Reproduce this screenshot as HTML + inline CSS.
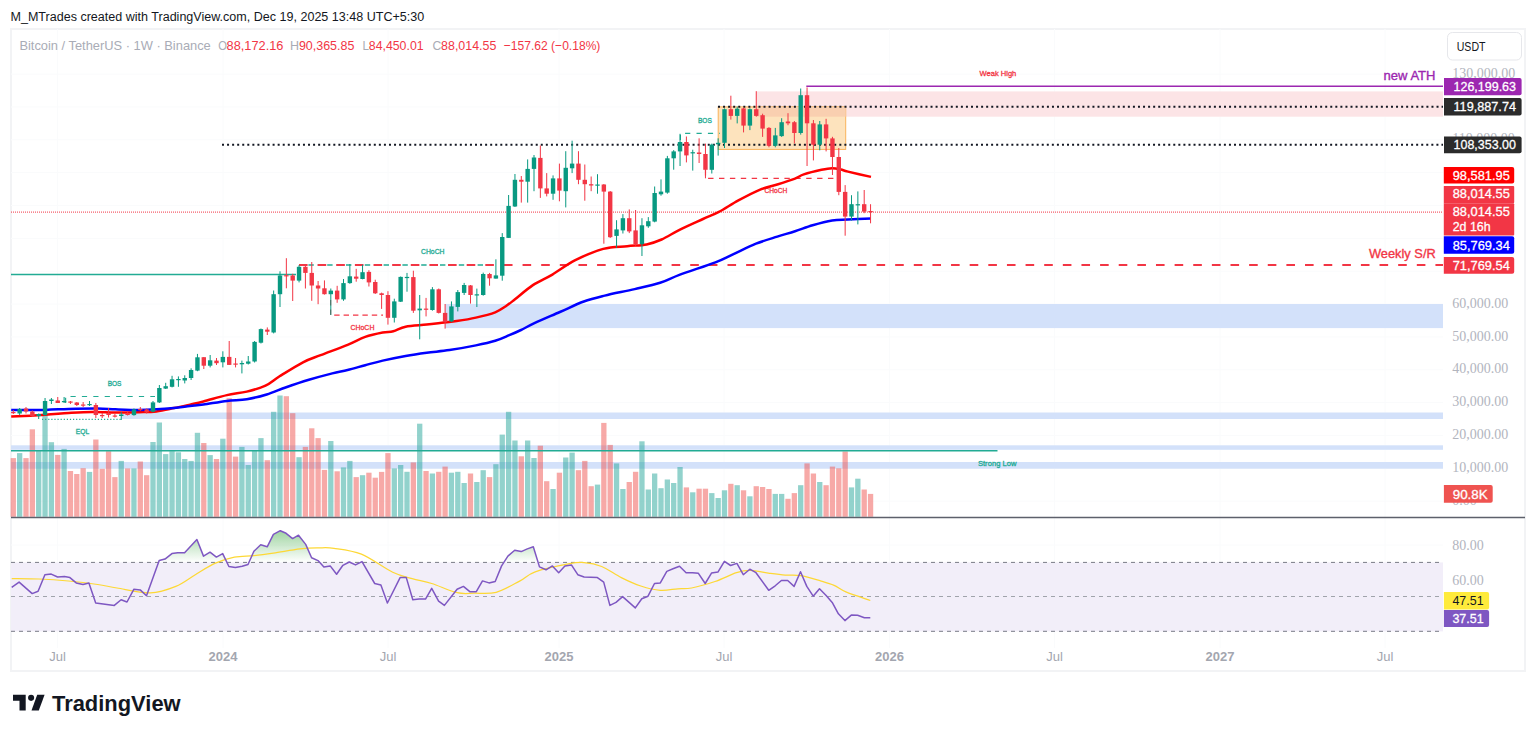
<!DOCTYPE html>
<html><head><meta charset="utf-8"><style>
html,body{margin:0;padding:0;background:#fff;width:1536px;height:735px;overflow:hidden;position:relative;font-family:"Liberation Sans",sans-serif;}
.frame{position:absolute;left:10px;top:28px;width:1512px;height:640px;border:2px solid #f2f3f5;}
svg{position:absolute;left:0;top:0}
</style></head><body>
<div class="frame"></div>
<svg width="1536" height="735" viewBox="0 0 1536 735" font-family='"Liberation Sans", sans-serif'>
<line x1="57.5" y1="29" x2="57.5" y2="648" stroke="#fafbfc" stroke-width="1"/>
<line x1="223" y1="29" x2="223" y2="648" stroke="#fafbfc" stroke-width="1"/>
<line x1="388" y1="29" x2="388" y2="648" stroke="#fafbfc" stroke-width="1"/>
<line x1="559" y1="29" x2="559" y2="648" stroke="#fafbfc" stroke-width="1"/>
<line x1="724" y1="29" x2="724" y2="648" stroke="#fafbfc" stroke-width="1"/>
<line x1="889.5" y1="29" x2="889.5" y2="648" stroke="#fafbfc" stroke-width="1"/>
<line x1="1054.5" y1="29" x2="1054.5" y2="648" stroke="#fafbfc" stroke-width="1"/>
<line x1="1220" y1="29" x2="1220" y2="648" stroke="#fafbfc" stroke-width="1"/>
<line x1="1385" y1="29" x2="1385" y2="648" stroke="#fafbfc" stroke-width="1"/>
<line x1="11" y1="501.17" x2="1443" y2="501.17" stroke="#fafbfc" stroke-width="1"/>
<line x1="11" y1="468.32" x2="1443" y2="468.32" stroke="#fafbfc" stroke-width="1"/>
<line x1="11" y1="435.47" x2="1443" y2="435.47" stroke="#fafbfc" stroke-width="1"/>
<line x1="11" y1="402.62" x2="1443" y2="402.62" stroke="#fafbfc" stroke-width="1"/>
<line x1="11" y1="369.77" x2="1443" y2="369.77" stroke="#fafbfc" stroke-width="1"/>
<line x1="11" y1="336.92" x2="1443" y2="336.92" stroke="#fafbfc" stroke-width="1"/>
<line x1="11" y1="304.07" x2="1443" y2="304.07" stroke="#fafbfc" stroke-width="1"/>
<line x1="11" y1="271.22" x2="1443" y2="271.22" stroke="#fafbfc" stroke-width="1"/>
<line x1="11" y1="238.37" x2="1443" y2="238.37" stroke="#fafbfc" stroke-width="1"/>
<line x1="11" y1="205.52" x2="1443" y2="205.52" stroke="#fafbfc" stroke-width="1"/>
<line x1="11" y1="172.67" x2="1443" y2="172.67" stroke="#fafbfc" stroke-width="1"/>
<line x1="11" y1="139.82" x2="1443" y2="139.82" stroke="#fafbfc" stroke-width="1"/>
<line x1="11" y1="106.97" x2="1443" y2="106.97" stroke="#fafbfc" stroke-width="1"/>
<line x1="11" y1="74.12" x2="1443" y2="74.12" stroke="#fafbfc" stroke-width="1"/>
<line x1="11" y1="545" x2="1443" y2="545" stroke="#fafbfc" stroke-width="1"/>
<line x1="11" y1="580" x2="1443" y2="580" stroke="#fafbfc" stroke-width="1"/>
<rect x="756" y="91.4" width="687" height="25.3" fill="#fce4e6"/>
<rect x="718.2" y="106.9" width="127.5" height="42.5" fill="#fde3bd" stroke="#f9b35a" stroke-width="1"/>
<rect x="756" y="107" width="89.7" height="9.7" fill="#f9cfb0"/>
<rect x="445" y="304" width="998" height="24.1" fill="#d3e1fa"/>
<rect x="121.5" y="412.5" width="1321.5" height="6.5" fill="#d3e1fa"/>
<rect x="11" y="445.3" width="1432" height="4.5" fill="#d3e1fa"/>
<rect x="11" y="462" width="1432" height="6.7" fill="#d3e1fa"/>
<rect x="10.65" y="458.1" width="5.3" height="58.7" fill="rgba(239,83,80,0.5)"/>
<rect x="17" y="453.1" width="5.3" height="63.7" fill="rgba(38,166,154,0.5)"/>
<rect x="23.35" y="458.1" width="5.3" height="58.7" fill="rgba(239,83,80,0.5)"/>
<rect x="29.7" y="429.3" width="5.3" height="87.5" fill="rgba(239,83,80,0.5)"/>
<rect x="36.05" y="450.1" width="5.3" height="66.7" fill="rgba(38,166,154,0.5)"/>
<rect x="42.4" y="414.8" width="5.3" height="102" fill="rgba(38,166,154,0.5)"/>
<rect x="48.75" y="442.2" width="5.3" height="74.6" fill="rgba(38,166,154,0.5)"/>
<rect x="55.1" y="454.9" width="5.3" height="61.9" fill="rgba(239,83,80,0.5)"/>
<rect x="61.45" y="448.9" width="5.3" height="67.9" fill="rgba(38,166,154,0.5)"/>
<rect x="67.8" y="471" width="5.3" height="45.8" fill="rgba(239,83,80,0.5)"/>
<rect x="74.15" y="474" width="5.3" height="42.8" fill="rgba(239,83,80,0.5)"/>
<rect x="80.5" y="468.2" width="5.3" height="48.6" fill="rgba(239,83,80,0.5)"/>
<rect x="86.85" y="471.9" width="5.3" height="44.9" fill="rgba(38,166,154,0.5)"/>
<rect x="93.2" y="439.5" width="5.3" height="77.3" fill="rgba(239,83,80,0.5)"/>
<rect x="99.55" y="468.8" width="5.3" height="48" fill="rgba(239,83,80,0.5)"/>
<rect x="105.9" y="451.2" width="5.3" height="65.6" fill="rgba(239,83,80,0.5)"/>
<rect x="112.25" y="477.1" width="5.3" height="39.7" fill="rgba(239,83,80,0.5)"/>
<rect x="118.6" y="460.9" width="5.3" height="55.9" fill="rgba(38,166,154,0.5)"/>
<rect x="124.95" y="468.4" width="5.3" height="48.4" fill="rgba(239,83,80,0.5)"/>
<rect x="131.3" y="468.4" width="5.3" height="48.4" fill="rgba(38,166,154,0.5)"/>
<rect x="137.65" y="461.5" width="5.3" height="55.3" fill="rgba(239,83,80,0.5)"/>
<rect x="144" y="475.2" width="5.3" height="41.6" fill="rgba(239,83,80,0.5)"/>
<rect x="150.35" y="442" width="5.3" height="74.8" fill="rgba(38,166,154,0.5)"/>
<rect x="156.7" y="422.5" width="5.3" height="94.3" fill="rgba(38,166,154,0.5)"/>
<rect x="163.05" y="454.1" width="5.3" height="62.7" fill="rgba(38,166,154,0.5)"/>
<rect x="169.4" y="451.2" width="5.3" height="65.6" fill="rgba(38,166,154,0.5)"/>
<rect x="175.75" y="452.3" width="5.3" height="64.5" fill="rgba(38,166,154,0.5)"/>
<rect x="182.1" y="459" width="5.3" height="57.8" fill="rgba(38,166,154,0.5)"/>
<rect x="188.45" y="460.9" width="5.3" height="55.9" fill="rgba(38,166,154,0.5)"/>
<rect x="194.8" y="432.8" width="5.3" height="84" fill="rgba(38,166,154,0.5)"/>
<rect x="201.15" y="443" width="5.3" height="73.8" fill="rgba(239,83,80,0.5)"/>
<rect x="207.5" y="455.1" width="5.3" height="61.7" fill="rgba(38,166,154,0.5)"/>
<rect x="213.85" y="459" width="5.3" height="57.8" fill="rgba(239,83,80,0.5)"/>
<rect x="220.2" y="438.7" width="5.3" height="78.1" fill="rgba(38,166,154,0.5)"/>
<rect x="226.55" y="398.2" width="5.3" height="118.6" fill="rgba(239,83,80,0.5)"/>
<rect x="232.9" y="456.6" width="5.3" height="60.2" fill="rgba(239,83,80,0.5)"/>
<rect x="239.25" y="446.9" width="5.3" height="69.9" fill="rgba(38,166,154,0.5)"/>
<rect x="245.6" y="465" width="5.3" height="51.8" fill="rgba(38,166,154,0.5)"/>
<rect x="251.95" y="450.8" width="5.3" height="66" fill="rgba(38,166,154,0.5)"/>
<rect x="258.3" y="438.1" width="5.3" height="78.7" fill="rgba(38,166,154,0.5)"/>
<rect x="264.65" y="460.2" width="5.3" height="56.6" fill="rgba(239,83,80,0.5)"/>
<rect x="271" y="411.8" width="5.3" height="105" fill="rgba(38,166,154,0.5)"/>
<rect x="277.35" y="395.5" width="5.3" height="121.3" fill="rgba(38,166,154,0.5)"/>
<rect x="283.7" y="396.2" width="5.3" height="120.6" fill="rgba(239,83,80,0.5)"/>
<rect x="290.05" y="413.2" width="5.3" height="103.6" fill="rgba(239,83,80,0.5)"/>
<rect x="296.4" y="457.2" width="5.3" height="59.6" fill="rgba(38,166,154,0.5)"/>
<rect x="302.75" y="446.9" width="5.3" height="69.9" fill="rgba(239,83,80,0.5)"/>
<rect x="309.1" y="428.3" width="5.3" height="88.5" fill="rgba(239,83,80,0.5)"/>
<rect x="315.45" y="438.1" width="5.3" height="78.7" fill="rgba(239,83,80,0.5)"/>
<rect x="321.8" y="469.9" width="5.3" height="46.9" fill="rgba(239,83,80,0.5)"/>
<rect x="328.15" y="441" width="5.3" height="75.8" fill="rgba(38,166,154,0.5)"/>
<rect x="334.5" y="471.3" width="5.3" height="45.5" fill="rgba(239,83,80,0.5)"/>
<rect x="340.85" y="467.4" width="5.3" height="49.4" fill="rgba(38,166,154,0.5)"/>
<rect x="347.2" y="460.9" width="5.3" height="55.9" fill="rgba(38,166,154,0.5)"/>
<rect x="353.55" y="477.1" width="5.3" height="39.7" fill="rgba(239,83,80,0.5)"/>
<rect x="359.9" y="475.2" width="5.3" height="41.6" fill="rgba(38,166,154,0.5)"/>
<rect x="366.25" y="472.7" width="5.3" height="44.1" fill="rgba(239,83,80,0.5)"/>
<rect x="372.6" y="477.7" width="5.3" height="39.1" fill="rgba(239,83,80,0.5)"/>
<rect x="378.95" y="471.9" width="5.3" height="44.9" fill="rgba(239,83,80,0.5)"/>
<rect x="385.3" y="453.1" width="5.3" height="63.7" fill="rgba(239,83,80,0.5)"/>
<rect x="391.65" y="468.4" width="5.3" height="48.4" fill="rgba(38,166,154,0.5)"/>
<rect x="398" y="465" width="5.3" height="51.8" fill="rgba(38,166,154,0.5)"/>
<rect x="404.35" y="471.8" width="5.3" height="45" fill="rgba(38,166,154,0.5)"/>
<rect x="410.7" y="462.4" width="5.3" height="54.4" fill="rgba(239,83,80,0.5)"/>
<rect x="417.05" y="423.7" width="5.3" height="93.1" fill="rgba(38,166,154,0.5)"/>
<rect x="423.4" y="471" width="5.3" height="45.8" fill="rgba(239,83,80,0.5)"/>
<rect x="429.75" y="473.5" width="5.3" height="43.3" fill="rgba(38,166,154,0.5)"/>
<rect x="436.1" y="471.8" width="5.3" height="45" fill="rgba(239,83,80,0.5)"/>
<rect x="442.45" y="466.6" width="5.3" height="50.2" fill="rgba(239,83,80,0.5)"/>
<rect x="448.8" y="472.7" width="5.3" height="44.1" fill="rgba(38,166,154,0.5)"/>
<rect x="455.15" y="471.8" width="5.3" height="45" fill="rgba(38,166,154,0.5)"/>
<rect x="461.5" y="483" width="5.3" height="33.8" fill="rgba(38,166,154,0.5)"/>
<rect x="467.85" y="473.5" width="5.3" height="43.3" fill="rgba(239,83,80,0.5)"/>
<rect x="474.2" y="482" width="5.3" height="34.8" fill="rgba(38,166,154,0.5)"/>
<rect x="480.55" y="470.2" width="5.3" height="46.6" fill="rgba(38,166,154,0.5)"/>
<rect x="486.9" y="477.1" width="5.3" height="39.7" fill="rgba(239,83,80,0.5)"/>
<rect x="493.25" y="464.2" width="5.3" height="52.6" fill="rgba(38,166,154,0.5)"/>
<rect x="499.6" y="434.6" width="5.3" height="82.2" fill="rgba(38,166,154,0.5)"/>
<rect x="505.95" y="411.8" width="5.3" height="105" fill="rgba(38,166,154,0.5)"/>
<rect x="512.3" y="440.5" width="5.3" height="76.3" fill="rgba(38,166,154,0.5)"/>
<rect x="518.65" y="456.3" width="5.3" height="60.5" fill="rgba(239,83,80,0.5)"/>
<rect x="525" y="440.5" width="5.3" height="76.3" fill="rgba(38,166,154,0.5)"/>
<rect x="531.35" y="458" width="5.3" height="58.8" fill="rgba(38,166,154,0.5)"/>
<rect x="537.7" y="445.7" width="5.3" height="71.1" fill="rgba(239,83,80,0.5)"/>
<rect x="544.05" y="481.2" width="5.3" height="35.6" fill="rgba(239,83,80,0.5)"/>
<rect x="550.4" y="489" width="5.3" height="27.8" fill="rgba(38,166,154,0.5)"/>
<rect x="556.75" y="472.7" width="5.3" height="44.1" fill="rgba(239,83,80,0.5)"/>
<rect x="563.1" y="457.5" width="5.3" height="59.3" fill="rgba(38,166,154,0.5)"/>
<rect x="569.45" y="452.6" width="5.3" height="64.2" fill="rgba(38,166,154,0.5)"/>
<rect x="575.8" y="470.2" width="5.3" height="46.6" fill="rgba(239,83,80,0.5)"/>
<rect x="582.15" y="460.9" width="5.3" height="55.9" fill="rgba(239,83,80,0.5)"/>
<rect x="588.5" y="486.2" width="5.3" height="30.6" fill="rgba(239,83,80,0.5)"/>
<rect x="594.85" y="484.6" width="5.3" height="32.2" fill="rgba(38,166,154,0.5)"/>
<rect x="601.2" y="422.9" width="5.3" height="93.9" fill="rgba(239,83,80,0.5)"/>
<rect x="607.55" y="444.9" width="5.3" height="71.9" fill="rgba(239,83,80,0.5)"/>
<rect x="613.9" y="463.4" width="5.3" height="53.4" fill="rgba(38,166,154,0.5)"/>
<rect x="620.25" y="489" width="5.3" height="27.8" fill="rgba(38,166,154,0.5)"/>
<rect x="626.6" y="482" width="5.3" height="34.8" fill="rgba(239,83,80,0.5)"/>
<rect x="632.95" y="471.8" width="5.3" height="45" fill="rgba(239,83,80,0.5)"/>
<rect x="639.3" y="441.3" width="5.3" height="75.5" fill="rgba(38,166,154,0.5)"/>
<rect x="645.65" y="489.5" width="5.3" height="27.3" fill="rgba(38,166,154,0.5)"/>
<rect x="652" y="473.5" width="5.3" height="43.3" fill="rgba(38,166,154,0.5)"/>
<rect x="658.35" y="488.2" width="5.3" height="28.6" fill="rgba(38,166,154,0.5)"/>
<rect x="664.7" y="479.5" width="5.3" height="37.3" fill="rgba(38,166,154,0.5)"/>
<rect x="671.05" y="483" width="5.3" height="33.8" fill="rgba(38,166,154,0.5)"/>
<rect x="677.4" y="467" width="5.3" height="49.8" fill="rgba(38,166,154,0.5)"/>
<rect x="683.75" y="487.4" width="5.3" height="29.4" fill="rgba(239,83,80,0.5)"/>
<rect x="690.1" y="492.3" width="5.3" height="24.5" fill="rgba(38,166,154,0.5)"/>
<rect x="696.45" y="488.7" width="5.3" height="28.1" fill="rgba(239,83,80,0.5)"/>
<rect x="702.8" y="488.7" width="5.3" height="28.1" fill="rgba(239,83,80,0.5)"/>
<rect x="709.15" y="493.1" width="5.3" height="23.7" fill="rgba(38,166,154,0.5)"/>
<rect x="715.5" y="498" width="5.3" height="18.8" fill="rgba(38,166,154,0.5)"/>
<rect x="721.85" y="490.3" width="5.3" height="26.5" fill="rgba(38,166,154,0.5)"/>
<rect x="728.2" y="483.8" width="5.3" height="33" fill="rgba(239,83,80,0.5)"/>
<rect x="734.55" y="485.2" width="5.3" height="31.6" fill="rgba(38,166,154,0.5)"/>
<rect x="740.9" y="490.3" width="5.3" height="26.5" fill="rgba(239,83,80,0.5)"/>
<rect x="747.25" y="496.3" width="5.3" height="20.5" fill="rgba(38,166,154,0.5)"/>
<rect x="753.6" y="486.2" width="5.3" height="30.6" fill="rgba(239,83,80,0.5)"/>
<rect x="759.95" y="487" width="5.3" height="29.8" fill="rgba(239,83,80,0.5)"/>
<rect x="766.3" y="489" width="5.3" height="27.8" fill="rgba(239,83,80,0.5)"/>
<rect x="772.65" y="493.9" width="5.3" height="22.9" fill="rgba(38,166,154,0.5)"/>
<rect x="779" y="493.9" width="5.3" height="22.9" fill="rgba(38,166,154,0.5)"/>
<rect x="785.35" y="498.8" width="5.3" height="18" fill="rgba(239,83,80,0.5)"/>
<rect x="791.7" y="493.1" width="5.3" height="23.7" fill="rgba(239,83,80,0.5)"/>
<rect x="798.05" y="485.2" width="5.3" height="31.6" fill="rgba(38,166,154,0.5)"/>
<rect x="804.4" y="463.4" width="5.3" height="53.4" fill="rgba(239,83,80,0.5)"/>
<rect x="810.75" y="473.5" width="5.3" height="43.3" fill="rgba(239,83,80,0.5)"/>
<rect x="817.1" y="482" width="5.3" height="34.8" fill="rgba(38,166,154,0.5)"/>
<rect x="823.45" y="485.2" width="5.3" height="31.6" fill="rgba(239,83,80,0.5)"/>
<rect x="829.8" y="466.6" width="5.3" height="50.2" fill="rgba(239,83,80,0.5)"/>
<rect x="836.15" y="468.3" width="5.3" height="48.5" fill="rgba(239,83,80,0.5)"/>
<rect x="842.5" y="451.4" width="5.3" height="65.4" fill="rgba(239,83,80,0.5)"/>
<rect x="848.85" y="487.4" width="5.3" height="29.4" fill="rgba(38,166,154,0.5)"/>
<rect x="855.2" y="478.7" width="5.3" height="38.1" fill="rgba(38,166,154,0.5)"/>
<rect x="861.55" y="489.5" width="5.3" height="27.3" fill="rgba(239,83,80,0.5)"/>
<rect x="867.9" y="493.9" width="5.3" height="22.9" fill="rgba(239,83,80,0.5)"/>
<line x1="11" y1="274.5" x2="296" y2="274.5" stroke="#22ab94" stroke-width="1.5"/>
<line x1="11" y1="450.7" x2="997.5" y2="450.7" stroke="#22ab94" stroke-width="1.5"/>
<line x1="806.3" y1="86.3" x2="1443" y2="86.3" stroke="#9c27b0" stroke-width="1.5"/>
<line x1="718" y1="106.8" x2="1443" y2="106.8" stroke="#131722" stroke-width="2" stroke-dasharray="2 3.06"/>
<line x1="222" y1="144.7" x2="1443" y2="144.7" stroke="#131722" stroke-width="2" stroke-dasharray="2 3.06"/>
<line x1="11" y1="212.1" x2="1443" y2="212.1" stroke="#f23645" stroke-width="1" stroke-dasharray="1 1"/>
<line x1="299" y1="265" x2="496" y2="265" stroke="#22ab94" stroke-width="1.3" stroke-dasharray="5.4 4"/>
<line x1="299" y1="265" x2="1443" y2="265" stroke="#f23645" stroke-width="2" stroke-dasharray="8.6 10.03"/>
<polyline points="330.6,300 330.6,315.2 383,315.2" fill="none" stroke="#f23645" stroke-width="1.2" stroke-dasharray="5.4 4"/>
<polyline points="65.6,403 65.6,396.5 155,396.5" fill="none" stroke="#22ab94" stroke-width="1.2" stroke-dasharray="5.2 6.2"/>
<polyline points="42,419.3 121.7,419.3" fill="none" stroke="#22ab94" stroke-width="1.2" stroke-dasharray="1.2 1.9"/>
<polyline points="680.4,140 680.4,133.3 720,133.3" fill="none" stroke="#22ab94" stroke-width="1.2" stroke-dasharray="5.2 6.2"/>
<polyline points="705.5,170 705.5,178.3 838,178.3" fill="none" stroke="#f23645" stroke-width="1.2" stroke-dasharray="5.4 5.5"/>
<text x="107.7" y="386" textLength="13.8" lengthAdjust="spacingAndGlyphs" fill="#22ab94" font-size="7" font-family='"Liberation Sans", sans-serif' font-weight="normal" stroke="#22ab94" stroke-width="0.3">BOS</text>
<text x="75.7" y="433.9" textLength="13.5" lengthAdjust="spacingAndGlyphs" fill="#22ab94" font-size="7" font-family='"Liberation Sans", sans-serif' font-weight="normal" stroke="#22ab94" stroke-width="0.3">EQL</text>
<text x="421" y="254" textLength="23.5" lengthAdjust="spacingAndGlyphs" fill="#22ab94" font-size="7" font-family='"Liberation Sans", sans-serif' font-weight="normal" stroke="#22ab94" stroke-width="0.3">CHoCH</text>
<text x="350.5" y="330.1" textLength="23.9" lengthAdjust="spacingAndGlyphs" fill="#f23645" font-size="7" font-family='"Liberation Sans", sans-serif' font-weight="normal" stroke="#f23645" stroke-width="0.3">CHoCH</text>
<text x="697.9" y="122.9" textLength="13.9" lengthAdjust="spacingAndGlyphs" fill="#22ab94" font-size="7" font-family='"Liberation Sans", sans-serif' font-weight="normal" stroke="#22ab94" stroke-width="0.3">BOS</text>
<text x="764.4" y="193.1" textLength="22.8" lengthAdjust="spacingAndGlyphs" fill="#f23645" font-size="7" font-family='"Liberation Sans", sans-serif' font-weight="normal" stroke="#f23645" stroke-width="0.3">CHoCH</text>
<text x="979.6" y="75.9" textLength="36.7" lengthAdjust="spacingAndGlyphs" fill="#f23645" font-size="7.5" font-family='"Liberation Sans", sans-serif' font-weight="normal" stroke="#f23645" stroke-width="0.3">Weak High</text>
<text x="977.9" y="465.8" textLength="38.7" lengthAdjust="spacingAndGlyphs" fill="#22ab94" font-size="7.5" font-family='"Liberation Sans", sans-serif' font-weight="normal" stroke="#22ab94" stroke-width="0.3">Strong Low</text>
<path d="M11.2,416.6 C16.87,416.3 35.63,415.4 45.2,414.8 C54.77,414.2 60.8,413.48 68.6,413 C76.4,412.52 84.18,411.98 92,411.9 C99.82,411.82 107.68,412.45 115.5,412.5 C123.32,412.55 132.07,412.38 138.9,412.2 C145.73,412.02 150.65,412.08 156.5,411.4 C162.35,410.72 168.42,409.23 174,408.1 C179.58,406.97 185.1,405.7 190,404.6 C194.9,403.5 197.25,403.08 203.4,401.5 C209.55,399.92 219.67,396.75 226.9,395.1 C234.13,393.45 240.37,393.17 246.8,391.6 C253.23,390.03 260.03,388.25 265.5,385.7 C270.97,383.15 273.35,380.2 279.6,376.3 C285.85,372.4 296.17,365.82 303,362.3 C309.83,358.78 313.17,358.12 320.6,355.2 C328.03,352.28 340.17,347.85 347.6,344.8 C355.03,341.75 359.35,338.95 365.2,336.9 C371.05,334.85 378.02,333.43 382.7,332.5 C387.38,331.57 389.48,332.27 393.3,331.3 C397.12,330.33 400.03,327.82 405.6,326.7 C411.17,325.58 420.25,325.3 426.7,324.6 C433.15,323.9 439.32,323.08 444.3,322.5 C449.28,321.92 451.33,321.92 456.6,321.1 C461.87,320.28 469.47,319.07 475.9,317.6 C482.33,316.13 490.22,314.2 495.2,312.3 C500.18,310.4 502.5,308.37 505.8,306.2 C509.1,304.03 510.48,302.82 515,299.3 C519.52,295.78 526.67,289.22 532.9,285.1 C539.13,280.98 545.42,278.72 552.4,274.6 C559.38,270.48 566.33,264.68 574.8,260.4 C583.27,256.12 594.47,251.27 603.2,248.9 C611.93,246.53 619.97,246.95 627.2,246.2 C634.43,245.45 640.87,245.52 646.6,244.4 C652.33,243.28 656.03,241.97 661.6,239.5 C667.17,237.03 673.1,233.02 680,229.6 C686.9,226.18 696.52,221.95 703,219 C709.48,216.05 713,215 718.9,211.9 C724.8,208.8 731.62,204.08 738.4,200.4 C745.18,196.72 753.12,192.45 759.6,189.8 C766.08,187.15 771.4,186.37 777.3,184.5 C783.2,182.63 790.58,180.28 795,178.6 C799.42,176.92 799.38,175.87 803.8,174.4 C808.22,172.93 816.78,170.83 821.5,169.8 C826.22,168.77 828.87,168.25 832.1,168.2 C835.33,168.15 838.25,168.93 840.9,169.5 C843.55,170.07 842.98,170.37 848,171.6 C853.02,172.83 867.17,176.02 871,176.9" fill="none" stroke="#ff0000" stroke-width="2.5" stroke-linejoin="round" stroke-linecap="butt"/>
<path d="M11.2,409.9 C16.87,409.9 35.63,410.07 45.2,409.9 C54.77,409.73 59.82,409.13 68.6,408.9 C77.38,408.67 90.08,408.43 97.9,408.5 C105.72,408.57 108.67,409.07 115.5,409.3 C122.33,409.53 132.07,409.9 138.9,409.9 C145.73,409.9 150.65,409.63 156.5,409.3 C162.35,408.97 168.42,408.45 174,407.9 C179.58,407.35 185.1,406.57 190,406 C194.9,405.43 197.25,405.35 203.4,404.5 C209.55,403.65 219.67,401.78 226.9,400.9 C234.13,400.02 240.17,400.27 246.8,399.2 C253.43,398.13 260.25,396.45 266.7,394.5 C273.15,392.55 278.47,389.95 285.5,387.5 C292.53,385.05 301.1,382.15 308.9,379.8 C316.7,377.45 325.85,375.03 332.3,373.4 C338.75,371.77 342.12,371.37 347.6,370 C353.08,368.63 359.35,366.77 365.2,365.2 C371.05,363.63 375.97,362.15 382.7,360.6 C389.43,359.05 398.27,357.22 405.6,355.9 C412.93,354.58 419.38,353.67 426.7,352.7 C434.02,351.73 441.3,351.32 449.5,350.1 C457.7,348.88 468.28,346.95 475.9,345.4 C483.52,343.85 489.63,342.5 495.2,340.8 C500.77,339.1 505,337 509.3,335.2 C513.6,333.4 516.82,332 521,330 C525.18,328 527.92,326.2 534.4,323.2 C540.88,320.2 551.67,315.62 559.9,312 C568.13,308.38 576.33,304.23 583.8,301.5 C591.27,298.77 596.22,297.67 604.7,295.6 C613.18,293.53 625.47,291.23 634.7,289.1 C643.93,286.97 652.55,285.22 660.1,282.8 C667.65,280.38 670.78,278.02 680,274.6 C689.22,271.18 706.57,265.68 715.4,262.3 C724.23,258.92 726.23,257.4 733,254.3 C739.77,251.2 748.62,246.65 756,243.7 C763.38,240.75 770.8,238.67 777.3,236.6 C783.8,234.53 789.12,233.2 795,231.3 C800.88,229.4 806.42,227.02 812.6,225.2 C818.78,223.38 826.2,221.35 832.1,220.4 C838,219.45 841.52,219.8 848,219.5 C854.48,219.2 867.17,218.75 871,218.6" fill="none" stroke="#0000ff" stroke-width="2.5" stroke-linejoin="round" stroke-linecap="butt"/>
<rect x="12.8" y="410" width="1" height="4" fill="#f23645"/>
<rect x="11.1" y="412" width="4.4" height="1.2" fill="#f23645"/>
<rect x="19.15" y="408" width="1" height="7" fill="#089981"/>
<rect x="17.45" y="409" width="4.4" height="4.5" fill="#089981"/>
<rect x="25.5" y="407" width="1" height="6.5" fill="#f23645"/>
<rect x="23.8" y="408.5" width="4.4" height="3" fill="#f23645"/>
<rect x="31.85" y="410.5" width="1" height="6.5" fill="#f23645"/>
<rect x="30.15" y="411.5" width="4.4" height="4.5" fill="#f23645"/>
<rect x="38.2" y="413.5" width="1" height="5.5" fill="#089981"/>
<rect x="36.5" y="414" width="4.4" height="2" fill="#089981"/>
<rect x="44.55" y="398" width="1" height="18" fill="#089981"/>
<rect x="42.85" y="401" width="4.4" height="14" fill="#089981"/>
<rect x="50.9" y="398" width="1" height="6" fill="#089981"/>
<rect x="49.2" y="399.5" width="4.4" height="1.5" fill="#089981"/>
<rect x="57.25" y="397" width="1" height="6" fill="#f23645"/>
<rect x="55.55" y="400.5" width="4.4" height="2.5" fill="#f23645"/>
<rect x="63.6" y="397" width="1" height="6" fill="#089981"/>
<rect x="61.9" y="401" width="4.4" height="1.2" fill="#089981"/>
<rect x="69.95" y="401" width="1" height="3" fill="#f23645"/>
<rect x="68.25" y="401.5" width="4.4" height="1.2" fill="#f23645"/>
<rect x="76.3" y="402" width="1" height="4" fill="#f23645"/>
<rect x="74.6" y="402.5" width="4.4" height="2.5" fill="#f23645"/>
<rect x="82.65" y="402" width="1" height="5" fill="#f23645"/>
<rect x="80.95" y="404.5" width="4.4" height="1.2" fill="#f23645"/>
<rect x="89" y="401" width="1" height="5" fill="#089981"/>
<rect x="87.3" y="404" width="4.4" height="1.2" fill="#089981"/>
<rect x="95.35" y="403" width="1" height="15" fill="#f23645"/>
<rect x="93.65" y="405" width="4.4" height="10" fill="#f23645"/>
<rect x="101.7" y="413" width="1" height="5" fill="#f23645"/>
<rect x="100" y="415" width="4.4" height="1.2" fill="#f23645"/>
<rect x="108.05" y="408" width="1" height="9.5" fill="#f23645"/>
<rect x="106.35" y="413" width="4.4" height="2" fill="#f23645"/>
<rect x="114.4" y="414" width="1" height="3.5" fill="#f23645"/>
<rect x="112.7" y="415.5" width="4.4" height="1.2" fill="#f23645"/>
<rect x="120.75" y="412" width="1" height="8" fill="#089981"/>
<rect x="119.05" y="414.5" width="4.4" height="1.5" fill="#089981"/>
<rect x="127.1" y="411" width="1" height="4.5" fill="#f23645"/>
<rect x="125.4" y="413" width="4.4" height="2" fill="#f23645"/>
<rect x="133.45" y="408.5" width="1" height="7.2" fill="#089981"/>
<rect x="131.75" y="409.4" width="4.4" height="5.7" fill="#089981"/>
<rect x="139.8" y="407" width="1" height="4" fill="#f23645"/>
<rect x="138.1" y="409" width="4.4" height="1.2" fill="#f23645"/>
<rect x="146.15" y="408.5" width="1" height="5" fill="#f23645"/>
<rect x="144.45" y="409.4" width="4.4" height="2.9" fill="#f23645"/>
<rect x="152.5" y="401" width="1" height="11.3" fill="#089981"/>
<rect x="150.8" y="402.4" width="4.4" height="9.3" fill="#089981"/>
<rect x="158.85" y="385" width="1" height="18" fill="#089981"/>
<rect x="157.15" y="388" width="4.4" height="14.4" fill="#089981"/>
<rect x="165.2" y="382.8" width="1" height="6.2" fill="#089981"/>
<rect x="163.5" y="386.2" width="4.4" height="2.4" fill="#089981"/>
<rect x="171.55" y="375.8" width="1" height="11.6" fill="#089981"/>
<rect x="169.85" y="379.3" width="4.4" height="7.5" fill="#089981"/>
<rect x="177.9" y="376.4" width="1" height="10.4" fill="#089981"/>
<rect x="176.2" y="379" width="4.4" height="1.2" fill="#089981"/>
<rect x="184.25" y="375.3" width="1" height="8.1" fill="#089981"/>
<rect x="182.55" y="378" width="4.4" height="2.5" fill="#089981"/>
<rect x="190.6" y="368.3" width="1" height="11.7" fill="#089981"/>
<rect x="188.9" y="370" width="4.4" height="8" fill="#089981"/>
<rect x="196.95" y="353.9" width="1" height="17.3" fill="#089981"/>
<rect x="195.25" y="357.3" width="4.4" height="13.3" fill="#089981"/>
<rect x="203.3" y="357" width="1" height="12" fill="#f23645"/>
<rect x="201.6" y="357.2" width="4.4" height="8.5" fill="#f23645"/>
<rect x="209.65" y="355" width="1" height="12.4" fill="#089981"/>
<rect x="207.95" y="360.3" width="4.4" height="5.4" fill="#089981"/>
<rect x="216" y="358" width="1" height="7" fill="#f23645"/>
<rect x="214.3" y="360.6" width="4.4" height="2.6" fill="#f23645"/>
<rect x="222.35" y="351.3" width="1" height="16.1" fill="#089981"/>
<rect x="220.65" y="356.9" width="4.4" height="5.4" fill="#089981"/>
<rect x="228.7" y="341" width="1" height="24" fill="#f23645"/>
<rect x="227" y="356.9" width="4.4" height="8" fill="#f23645"/>
<rect x="235.05" y="358" width="1" height="9.4" fill="#f23645"/>
<rect x="233.35" y="363.5" width="4.4" height="1.2" fill="#f23645"/>
<rect x="241.4" y="360.6" width="1" height="12.8" fill="#089981"/>
<rect x="239.7" y="363" width="4.4" height="1.3" fill="#089981"/>
<rect x="247.75" y="356" width="1" height="8.5" fill="#089981"/>
<rect x="246.05" y="361.5" width="4.4" height="2.2" fill="#089981"/>
<rect x="254.1" y="341" width="1" height="21.5" fill="#089981"/>
<rect x="252.4" y="341.9" width="4.4" height="19.6" fill="#089981"/>
<rect x="260.45" y="328.5" width="1" height="15" fill="#089981"/>
<rect x="258.75" y="329.1" width="4.4" height="13.6" fill="#089981"/>
<rect x="266.8" y="327.4" width="1" height="7.6" fill="#f23645"/>
<rect x="265.1" y="329.6" width="4.4" height="2.1" fill="#f23645"/>
<rect x="273.15" y="290.5" width="1" height="42.9" fill="#089981"/>
<rect x="271.45" y="294.2" width="4.4" height="38.3" fill="#089981"/>
<rect x="279.5" y="271.3" width="1" height="35.7" fill="#089981"/>
<rect x="277.8" y="275.5" width="4.4" height="18.7" fill="#089981"/>
<rect x="285.85" y="258.2" width="1" height="30.1" fill="#f23645"/>
<rect x="284.15" y="275.2" width="4.4" height="1.2" fill="#f23645"/>
<rect x="292.2" y="273.8" width="1" height="27.2" fill="#f23645"/>
<rect x="290.5" y="275.5" width="4.4" height="5.1" fill="#f23645"/>
<rect x="298.55" y="265.1" width="1" height="17.3" fill="#089981"/>
<rect x="296.85" y="266.8" width="4.4" height="13.8" fill="#089981"/>
<rect x="304.9" y="266" width="1" height="22.5" fill="#f23645"/>
<rect x="303.2" y="266.8" width="4.4" height="6.1" fill="#f23645"/>
<rect x="311.25" y="262" width="1" height="38.8" fill="#f23645"/>
<rect x="309.55" y="272.9" width="4.4" height="12.6" fill="#f23645"/>
<rect x="317.6" y="281" width="1" height="23.2" fill="#f23645"/>
<rect x="315.9" y="285.5" width="4.4" height="3" fill="#f23645"/>
<rect x="323.95" y="280.4" width="1" height="14.2" fill="#f23645"/>
<rect x="322.25" y="288.3" width="4.4" height="5.9" fill="#f23645"/>
<rect x="330.3" y="288.5" width="1" height="26.5" fill="#089981"/>
<rect x="328.6" y="290.6" width="4.4" height="3.6" fill="#089981"/>
<rect x="336.65" y="285.8" width="1" height="17" fill="#f23645"/>
<rect x="334.95" y="290.6" width="4.4" height="8.8" fill="#f23645"/>
<rect x="343" y="279" width="1" height="21.8" fill="#089981"/>
<rect x="341.3" y="283.1" width="4.4" height="16.3" fill="#089981"/>
<rect x="349.35" y="264" width="1" height="19.8" fill="#089981"/>
<rect x="347.65" y="276.3" width="4.4" height="6.8" fill="#089981"/>
<rect x="355.7" y="268.8" width="1" height="12.9" fill="#f23645"/>
<rect x="354" y="276.6" width="4.4" height="2.1" fill="#f23645"/>
<rect x="362.05" y="264.7" width="1" height="14.6" fill="#089981"/>
<rect x="360.35" y="272.2" width="4.4" height="6.8" fill="#089981"/>
<rect x="368.4" y="270.2" width="1" height="16.3" fill="#f23645"/>
<rect x="366.7" y="271.9" width="4.4" height="10.5" fill="#f23645"/>
<rect x="374.75" y="279.7" width="1" height="14.3" fill="#f23645"/>
<rect x="373.05" y="282" width="4.4" height="11.3" fill="#f23645"/>
<rect x="381.1" y="292.6" width="1" height="16.3" fill="#f23645"/>
<rect x="379.4" y="293.3" width="4.4" height="1.7" fill="#f23645"/>
<rect x="387.45" y="291.2" width="1" height="33.4" fill="#f23645"/>
<rect x="385.75" y="295" width="4.4" height="22.8" fill="#f23645"/>
<rect x="393.8" y="298.7" width="1" height="23.8" fill="#089981"/>
<rect x="392.1" y="301.4" width="4.4" height="16.4" fill="#089981"/>
<rect x="400.15" y="276.5" width="1" height="25.5" fill="#089981"/>
<rect x="398.45" y="276.9" width="4.4" height="24.8" fill="#089981"/>
<rect x="406.5" y="272.9" width="1" height="18.8" fill="#089981"/>
<rect x="404.8" y="276.9" width="4.4" height="1.2" fill="#089981"/>
<rect x="412.85" y="270.7" width="1" height="42.2" fill="#f23645"/>
<rect x="411.15" y="277.1" width="4.4" height="33.6" fill="#f23645"/>
<rect x="419.2" y="295" width="1" height="44.3" fill="#089981"/>
<rect x="417.5" y="308.6" width="4.4" height="1.7" fill="#089981"/>
<rect x="425.55" y="297.9" width="1" height="18.5" fill="#f23645"/>
<rect x="423.85" y="308.6" width="4.4" height="1.2" fill="#f23645"/>
<rect x="431.9" y="287.1" width="1" height="23.6" fill="#089981"/>
<rect x="430.2" y="289.3" width="4.4" height="20.7" fill="#089981"/>
<rect x="438.25" y="288.5" width="1" height="25" fill="#f23645"/>
<rect x="436.55" y="289.3" width="4.4" height="23.6" fill="#f23645"/>
<rect x="444.6" y="304" width="1" height="24.6" fill="#f23645"/>
<rect x="442.9" y="312.9" width="4.4" height="9.2" fill="#f23645"/>
<rect x="450.95" y="301.4" width="1" height="20.7" fill="#089981"/>
<rect x="449.25" y="306.4" width="4.4" height="15" fill="#089981"/>
<rect x="457.3" y="290" width="1" height="21.4" fill="#089981"/>
<rect x="455.6" y="292.1" width="4.4" height="14.8" fill="#089981"/>
<rect x="463.65" y="282.9" width="1" height="12.1" fill="#089981"/>
<rect x="461.95" y="285" width="4.4" height="7.9" fill="#089981"/>
<rect x="470" y="285" width="1" height="18.6" fill="#f23645"/>
<rect x="468.3" y="285.4" width="4.4" height="9.6" fill="#f23645"/>
<rect x="476.35" y="288.6" width="1" height="18.4" fill="#089981"/>
<rect x="474.65" y="294.3" width="4.4" height="1.2" fill="#089981"/>
<rect x="482.7" y="272.6" width="1" height="23.1" fill="#089981"/>
<rect x="481" y="274" width="4.4" height="21" fill="#089981"/>
<rect x="489.05" y="272.9" width="1" height="12.8" fill="#f23645"/>
<rect x="487.35" y="274" width="4.4" height="4.3" fill="#f23645"/>
<rect x="495.4" y="259.3" width="1" height="19.3" fill="#089981"/>
<rect x="493.7" y="275.4" width="4.4" height="3.2" fill="#089981"/>
<rect x="501.75" y="233.1" width="1" height="47.6" fill="#089981"/>
<rect x="500.05" y="237" width="4.4" height="38.7" fill="#089981"/>
<rect x="508.1" y="195" width="1" height="43" fill="#089981"/>
<rect x="506.4" y="205.9" width="4.4" height="32" fill="#089981"/>
<rect x="514.45" y="174" width="1" height="33" fill="#089981"/>
<rect x="512.75" y="179.8" width="4.4" height="26.7" fill="#089981"/>
<rect x="520.8" y="176" width="1" height="26.6" fill="#f23645"/>
<rect x="519.1" y="179.8" width="4.4" height="1.9" fill="#f23645"/>
<rect x="527.15" y="159.4" width="1" height="43.2" fill="#089981"/>
<rect x="525.45" y="168.9" width="4.4" height="12.8" fill="#089981"/>
<rect x="533.5" y="155" width="1" height="36.2" fill="#089981"/>
<rect x="531.8" y="157.5" width="4.4" height="11.4" fill="#089981"/>
<rect x="539.85" y="145.5" width="1" height="52.4" fill="#f23645"/>
<rect x="538.15" y="157.9" width="4.4" height="30.5" fill="#f23645"/>
<rect x="546.2" y="173.1" width="1" height="23.3" fill="#f23645"/>
<rect x="544.5" y="188.4" width="4.4" height="5.3" fill="#f23645"/>
<rect x="552.55" y="175.4" width="1" height="24.4" fill="#089981"/>
<rect x="550.85" y="178.4" width="4.4" height="15.3" fill="#089981"/>
<rect x="558.9" y="163.6" width="1" height="37.7" fill="#f23645"/>
<rect x="557.2" y="178.4" width="4.4" height="12.2" fill="#f23645"/>
<rect x="565.25" y="151.2" width="1" height="56.2" fill="#089981"/>
<rect x="563.55" y="167.8" width="4.4" height="23.4" fill="#089981"/>
<rect x="571.6" y="140.7" width="1" height="32.4" fill="#089981"/>
<rect x="569.9" y="163.6" width="4.4" height="4.7" fill="#089981"/>
<rect x="577.95" y="151.2" width="1" height="33" fill="#f23645"/>
<rect x="576.25" y="163.6" width="4.4" height="16.2" fill="#f23645"/>
<rect x="584.3" y="164.5" width="1" height="36.2" fill="#f23645"/>
<rect x="582.6" y="179.8" width="4.4" height="4.4" fill="#f23645"/>
<rect x="590.65" y="176.5" width="1" height="14.7" fill="#f23645"/>
<rect x="588.95" y="184.2" width="4.4" height="1.3" fill="#f23645"/>
<rect x="597" y="174.2" width="1" height="19.5" fill="#089981"/>
<rect x="595.3" y="184.5" width="4.4" height="1.2" fill="#089981"/>
<rect x="603.35" y="184" width="1" height="59.7" fill="#f23645"/>
<rect x="601.65" y="184.5" width="4.4" height="7.1" fill="#f23645"/>
<rect x="609.7" y="191" width="1" height="47" fill="#f23645"/>
<rect x="608" y="191.6" width="4.4" height="45.6" fill="#f23645"/>
<rect x="616.05" y="220.2" width="1" height="27.6" fill="#089981"/>
<rect x="614.35" y="229.4" width="4.4" height="6.5" fill="#089981"/>
<rect x="622.4" y="214.1" width="1" height="19.4" fill="#089981"/>
<rect x="620.7" y="218.2" width="4.4" height="12.2" fill="#089981"/>
<rect x="628.75" y="209.4" width="1" height="23.7" fill="#f23645"/>
<rect x="627.05" y="218.2" width="4.4" height="13.2" fill="#f23645"/>
<rect x="635.1" y="210" width="1" height="35.7" fill="#f23645"/>
<rect x="633.4" y="230.4" width="4.4" height="13.7" fill="#f23645"/>
<rect x="641.45" y="218.2" width="1" height="37.8" fill="#089981"/>
<rect x="639.75" y="225.3" width="4.4" height="18.8" fill="#089981"/>
<rect x="647.8" y="217.1" width="1" height="10.7" fill="#089981"/>
<rect x="646.1" y="221.2" width="4.4" height="5.1" fill="#089981"/>
<rect x="654.15" y="186.5" width="1" height="35.8" fill="#089981"/>
<rect x="652.45" y="193" width="4.4" height="28.6" fill="#089981"/>
<rect x="660.5" y="179.4" width="1" height="16.3" fill="#089981"/>
<rect x="658.8" y="191.6" width="4.4" height="2.7" fill="#089981"/>
<rect x="666.85" y="155.9" width="1" height="37.8" fill="#089981"/>
<rect x="665.15" y="158.3" width="4.4" height="34.3" fill="#089981"/>
<rect x="673.2" y="150.1" width="1" height="19.6" fill="#089981"/>
<rect x="671.5" y="151.4" width="4.4" height="6.9" fill="#089981"/>
<rect x="679.55" y="133.8" width="1" height="32.2" fill="#089981"/>
<rect x="677.85" y="142" width="4.4" height="9.4" fill="#089981"/>
<rect x="685.9" y="136.5" width="1" height="25.9" fill="#f23645"/>
<rect x="684.2" y="142" width="4.4" height="13.4" fill="#f23645"/>
<rect x="692.25" y="149.7" width="1" height="20.9" fill="#089981"/>
<rect x="690.55" y="152.2" width="4.4" height="1.2" fill="#089981"/>
<rect x="698.6" y="138.3" width="1" height="24.7" fill="#f23645"/>
<rect x="696.9" y="152.5" width="4.4" height="1.5" fill="#f23645"/>
<rect x="704.95" y="143.6" width="1" height="34.7" fill="#f23645"/>
<rect x="703.25" y="154" width="4.4" height="15.8" fill="#f23645"/>
<rect x="711.3" y="143.6" width="1" height="29.9" fill="#089981"/>
<rect x="709.6" y="144.6" width="4.4" height="25.2" fill="#089981"/>
<rect x="717.65" y="138.3" width="1" height="17.3" fill="#089981"/>
<rect x="715.95" y="142.8" width="4.4" height="1.5" fill="#089981"/>
<rect x="724" y="108.4" width="1" height="39.6" fill="#089981"/>
<rect x="722.3" y="109.2" width="4.4" height="33.6" fill="#089981"/>
<rect x="730.35" y="95.7" width="1" height="23.9" fill="#f23645"/>
<rect x="728.65" y="109.2" width="4.4" height="6.7" fill="#f23645"/>
<rect x="736.7" y="106.6" width="1" height="16.8" fill="#089981"/>
<rect x="735" y="108.7" width="4.4" height="7.2" fill="#089981"/>
<rect x="743.05" y="107.7" width="1" height="24.7" fill="#f23645"/>
<rect x="741.35" y="108.4" width="4.4" height="17.2" fill="#f23645"/>
<rect x="749.4" y="108.4" width="1" height="21.7" fill="#089981"/>
<rect x="747.7" y="109.2" width="4.4" height="16.4" fill="#089981"/>
<rect x="755.75" y="91.2" width="1" height="25.5" fill="#f23645"/>
<rect x="754.05" y="109.2" width="4.4" height="6.7" fill="#f23645"/>
<rect x="762.1" y="113.7" width="1" height="23.2" fill="#f23645"/>
<rect x="760.4" y="115.2" width="4.4" height="13.4" fill="#f23645"/>
<rect x="768.45" y="127.1" width="1" height="20.2" fill="#f23645"/>
<rect x="766.75" y="127.9" width="4.4" height="17.9" fill="#f23645"/>
<rect x="774.8" y="127.9" width="1" height="19.4" fill="#089981"/>
<rect x="773.1" y="135.4" width="4.4" height="10.4" fill="#089981"/>
<rect x="781.15" y="118.2" width="1" height="18.7" fill="#089981"/>
<rect x="779.45" y="122.2" width="4.4" height="13.9" fill="#089981"/>
<rect x="787.5" y="113.2" width="1" height="12" fill="#f23645"/>
<rect x="785.8" y="121.5" width="4.4" height="1.8" fill="#f23645"/>
<rect x="793.85" y="121" width="1" height="22.5" fill="#f23645"/>
<rect x="792.15" y="122.2" width="4.4" height="10.8" fill="#f23645"/>
<rect x="800.2" y="88.5" width="1" height="46.1" fill="#089981"/>
<rect x="798.5" y="95.2" width="4.4" height="37.8" fill="#089981"/>
<rect x="806.55" y="87.4" width="1" height="78.6" fill="#f23645"/>
<rect x="804.85" y="95.2" width="4.4" height="28.1" fill="#f23645"/>
<rect x="812.9" y="120" width="1" height="40.4" fill="#f23645"/>
<rect x="811.2" y="123.3" width="4.4" height="21.4" fill="#f23645"/>
<rect x="819.25" y="121" width="1" height="29.3" fill="#089981"/>
<rect x="817.55" y="124.4" width="4.4" height="20.3" fill="#089981"/>
<rect x="825.6" y="118.8" width="1" height="32.6" fill="#f23645"/>
<rect x="823.9" y="124.4" width="4.4" height="14" fill="#f23645"/>
<rect x="831.95" y="136.8" width="1" height="38.2" fill="#f23645"/>
<rect x="830.25" y="138.4" width="4.4" height="18.6" fill="#f23645"/>
<rect x="838.3" y="148" width="1" height="47.2" fill="#f23645"/>
<rect x="836.6" y="157" width="4.4" height="34.9" fill="#f23645"/>
<rect x="844.65" y="185.1" width="1" height="50.6" fill="#f23645"/>
<rect x="842.95" y="191.9" width="4.4" height="24.7" fill="#f23645"/>
<rect x="851" y="195.2" width="1" height="25.4" fill="#089981"/>
<rect x="849.3" y="204.2" width="4.4" height="12.4" fill="#089981"/>
<rect x="857.35" y="191.4" width="1" height="33" fill="#089981"/>
<rect x="855.65" y="204.2" width="4.4" height="1.2" fill="#089981"/>
<rect x="863.7" y="190" width="1" height="23.2" fill="#f23645"/>
<rect x="862" y="204.2" width="4.4" height="7.4" fill="#f23645"/>
<rect x="870.05" y="204.2" width="1" height="19.1" fill="#f23645"/>
<rect x="868.35" y="211" width="4.4" height="1.2" fill="#f23645"/>
<text x="1383.6" y="79.6" textLength="51.9" lengthAdjust="spacingAndGlyphs" fill="#9c27b0" font-size="13" font-family='"Liberation Sans", sans-serif' font-weight="normal" stroke="#9c27b0" stroke-width="0.35">new ATH</text>
<text x="1369" y="258.3" textLength="66.7" lengthAdjust="spacingAndGlyphs" fill="#f23645" font-size="13" font-family='"Liberation Sans", sans-serif' font-weight="normal" stroke="#f23645" stroke-width="0.35">Weekly S/R</text>
<line x1="11" y1="517.5" x2="1525" y2="517.5" stroke="#5d606b" stroke-width="1.3"/>
<rect x="11" y="562.4" width="1432" height="69" fill="#f2eef9"/>
<line x1="11" y1="562.4" x2="1443" y2="562.4" stroke="#787b86" stroke-width="1" stroke-dasharray="4 4"/>
<line x1="11" y1="596.5" x2="1443" y2="596.5" stroke="#a0a3ab" stroke-width="1" stroke-dasharray="4 4"/>
<line x1="11" y1="631.3" x2="1443" y2="631.3" stroke="#787b86" stroke-width="1" stroke-dasharray="4 4"/>
<defs><linearGradient id="gg" x1="0" y1="530" x2="0" y2="562.4" gradientUnits="userSpaceOnUse"><stop offset="0" stop-color="#4caf50" stop-opacity="0.55"/><stop offset="1" stop-color="#4caf50" stop-opacity="0"/></linearGradient><clipPath id="above70"><rect x="0" y="0" width="1536" height="562.4"/></clipPath></defs>
<polygon points="11.7,562.4 11.7,587.4 19.1,582.1 32.2,593.6 38.1,591.3 44.9,574.7 51.2,574.1 57.6,577 64.5,576.6 69.9,577.6 76.2,582.9 83,584.5 88.9,583.1 95.7,603 114.3,605.4 121.1,599.7 127,602 133.8,589.3 140.2,589.9 146.5,595.8 159.2,560.6 165,559.1 171.9,553.6 177.7,552.8 184.6,552.8 196.9,539.5 203.5,556.1 210,552.2 216.4,557.1 222.7,553.6 228.9,566.5 235.4,567.5 242.2,566.3 248,564.5 253.9,551.3 260.7,544.8 267.2,546.8 273.4,534.3 280.3,530.7 286.1,533.3 292.6,538.6 298.5,535.2 305.7,544.4 311.6,557.7 318,560.6 323.9,566.9 330.2,565.9 336.6,574.3 342.9,565.3 349.3,562 355.5,564.9 362,561.6 374.7,583.5 380.9,585 387.4,603 400.1,577.6 406.3,577.6 412.8,599.7 419,599.1 425.5,599.1 431.7,588.4 438.6,601.1 444.4,605.4 457.1,589.3 463.4,586.4 469.8,591.7 476.3,591.7 482.5,580.9 489,582.9 495.2,581.5 501.6,565.9 507.9,556.1 514.7,550.3 521.2,551.6 527.3,548.9 533.3,546.8 539.5,566.9 546,569.8 552.4,565.9 558.7,572.7 564.9,565.9 571.4,564.9 577.8,574.7 584.1,577 597.4,577.6 603.7,582.1 609.9,605.4 616,602.4 622.6,596.6 635.3,607.9 641.8,598.7 648,596.2 654.5,583.5 660.3,582.9 666.8,571.4 673,568.8 679.5,566.3 686.1,572.7 692.5,572.7 698.4,573.3 705.2,583.5 711.5,573.1 717.9,572.1 724.4,561.4 730.6,565.5 736.9,563.4 743.3,574.7 749.8,569.2 756,572.7 768.7,590.3 775.2,585.8 781.4,580.5 787.7,580.5 794.1,586.4 800.5,571.8 806.8,586.4 813.2,596.2 819.5,588.8 825.9,595.2 832.2,602.4 838.4,613.8 844.9,620.6 851.3,615.1 857.6,615.3 864.4,617.7 870.3,617.7 870.3,562.4" fill="url(#gg)" clip-path="url(#above70)"/>
<path d="M11.7,578.6 C16.25,578.67 29.55,578.6 39,579 C48.45,579.4 58.62,580.08 68.4,581 C78.18,581.92 89.6,583.33 97.7,584.5 C105.8,585.67 108.22,586.6 117,588 C125.78,589.4 140.6,593.17 150.4,592.9 C160.2,592.63 168.32,589.43 175.8,586.4 C183.28,583.37 188.8,578.53 195.3,574.7 C201.8,570.87 208.28,566.33 214.8,563.4 C221.32,560.47 227.88,558.38 234.4,557.1 C240.92,555.82 247.4,556.35 253.9,555.7 C260.4,555.05 265.72,554.33 273.4,553.2 C281.08,552.07 292.5,549.78 300,548.9 C307.5,548.02 312.73,548 318.4,547.9 C324.07,547.8 326.83,547.25 334,548.3 C341.17,549.35 351.62,550.2 361.4,554.2 C371.18,558.2 384.23,568.23 392.7,572.3 C401.17,576.37 405.7,576.73 412.2,578.6 C418.7,580.47 424.22,581.15 431.7,583.5 C439.18,585.85 449.93,591.08 457.1,592.7 C464.27,594.32 468.18,593.27 474.7,593.2 C481.22,593.13 488.72,594.32 496.2,592.3 C503.68,590.28 513.1,584.52 519.6,581.1 C526.1,577.68 527.07,574.67 535.2,571.8 C543.33,568.93 560.25,565.43 568.4,563.9 C576.55,562.37 578.55,562.17 584.1,562.6 C589.65,563.03 595.5,564 601.7,566.5 C607.9,569 614.78,574.35 621.3,577.6 C627.82,580.85 634.3,583.88 640.8,586 C647.3,588.12 654.12,589.83 660.3,590.3 C666.48,590.77 672.68,589.18 677.9,588.8 C683.12,588.42 685.42,589.22 691.6,588 C697.78,586.78 707.52,584.05 715,581.5 C722.48,578.95 730.63,574.55 736.5,572.7 C742.37,570.85 744.67,570.3 750.2,570.4 C755.73,570.5 763.85,572.52 769.7,573.3 C775.55,574.08 780.08,574.7 785.3,575.1 C790.52,575.5 795.13,574.73 801,575.7 C806.87,576.67 814.98,579.28 820.5,580.9 C826.02,582.52 829.87,583.57 834.1,585.4 C838.33,587.23 839.87,589.38 845.9,591.9 C851.93,594.42 866.23,599.07 870.3,600.5" fill="none" stroke="#fdd835" stroke-width="1.25" stroke-linejoin="round"/>
<polyline points="11.7,587.4 19.1,582.1 32.2,593.6 38.1,591.3 44.9,574.7 51.2,574.1 57.6,577 64.5,576.6 69.9,577.6 76.2,582.9 83,584.5 88.9,583.1 95.7,603 114.3,605.4 121.1,599.7 127,602 133.8,589.3 140.2,589.9 146.5,595.8 159.2,560.6 165,559.1 171.9,553.6 177.7,552.8 184.6,552.8 196.9,539.5 203.5,556.1 210,552.2 216.4,557.1 222.7,553.6 228.9,566.5 235.4,567.5 242.2,566.3 248,564.5 253.9,551.3 260.7,544.8 267.2,546.8 273.4,534.3 280.3,530.7 286.1,533.3 292.6,538.6 298.5,535.2 305.7,544.4 311.6,557.7 318,560.6 323.9,566.9 330.2,565.9 336.6,574.3 342.9,565.3 349.3,562 355.5,564.9 362,561.6 374.7,583.5 380.9,585 387.4,603 400.1,577.6 406.3,577.6 412.8,599.7 419,599.1 425.5,599.1 431.7,588.4 438.6,601.1 444.4,605.4 457.1,589.3 463.4,586.4 469.8,591.7 476.3,591.7 482.5,580.9 489,582.9 495.2,581.5 501.6,565.9 507.9,556.1 514.7,550.3 521.2,551.6 527.3,548.9 533.3,546.8 539.5,566.9 546,569.8 552.4,565.9 558.7,572.7 564.9,565.9 571.4,564.9 577.8,574.7 584.1,577 597.4,577.6 603.7,582.1 609.9,605.4 616,602.4 622.6,596.6 635.3,607.9 641.8,598.7 648,596.2 654.5,583.5 660.3,582.9 666.8,571.4 673,568.8 679.5,566.3 686.1,572.7 692.5,572.7 698.4,573.3 705.2,583.5 711.5,573.1 717.9,572.1 724.4,561.4 730.6,565.5 736.9,563.4 743.3,574.7 749.8,569.2 756,572.7 768.7,590.3 775.2,585.8 781.4,580.5 787.7,580.5 794.1,586.4 800.5,571.8 806.8,586.4 813.2,596.2 819.5,588.8 825.9,595.2 832.2,602.4 838.4,613.8 844.9,620.6 851.3,615.1 857.6,615.3 864.4,617.7 870.3,617.7" fill="none" stroke="#7e57c2" stroke-width="1.5" stroke-linejoin="round"/>
<text x="10.5" y="21.1" textLength="413.7" lengthAdjust="spacingAndGlyphs" fill="#131722" font-size="12.5" font-family='"Liberation Sans", sans-serif' font-weight="normal">M_MTrades created with TradingView.com, Dec 19, 2025 13:48 UTC+5:30</text>
<text x="19.4" y="49.8" textLength="191.4" lengthAdjust="spacingAndGlyphs" fill="#a9acb6" font-size="13" font-family='"Liberation Sans", sans-serif' font-weight="normal">Bitcoin / TetherUS · 1W · Binance</text>
<text x="218.2" y="50" textLength="8.7" lengthAdjust="spacingAndGlyphs" fill="#a9acb6" font-size="13.5" font-family='"Liberation Sans", sans-serif' font-weight="normal">O</text>
<text x="226.6" y="50" textLength="56.8" lengthAdjust="spacingAndGlyphs" fill="#f23645" font-size="13.5" font-family='"Liberation Sans", sans-serif' font-weight="normal">88,172.16</text>
<text x="290" y="50" textLength="9" lengthAdjust="spacingAndGlyphs" fill="#a9acb6" font-size="13.5" font-family='"Liberation Sans", sans-serif' font-weight="normal">H</text>
<text x="298.9" y="50" textLength="55.5" lengthAdjust="spacingAndGlyphs" fill="#f23645" font-size="13.5" font-family='"Liberation Sans", sans-serif' font-weight="normal">90,365.85</text>
<text x="362.6" y="50" textLength="6.5" lengthAdjust="spacingAndGlyphs" fill="#a9acb6" font-size="13.5" font-family='"Liberation Sans", sans-serif' font-weight="normal">L</text>
<text x="368.8" y="50" textLength="54.8" lengthAdjust="spacingAndGlyphs" fill="#f23645" font-size="13.5" font-family='"Liberation Sans", sans-serif' font-weight="normal">84,450.01</text>
<text x="432.6" y="50" textLength="8.8" lengthAdjust="spacingAndGlyphs" fill="#a9acb6" font-size="13.5" font-family='"Liberation Sans", sans-serif' font-weight="normal">C</text>
<text x="441.1" y="50" textLength="55.2" lengthAdjust="spacingAndGlyphs" fill="#f23645" font-size="13.5" font-family='"Liberation Sans", sans-serif' font-weight="normal">88,014.55</text>
<text x="503.8" y="50" textLength="96.6" lengthAdjust="spacingAndGlyphs" fill="#f23645" font-size="13.5" font-family='"Liberation Sans", sans-serif' font-weight="normal">−157.62 (−0.18%)</text>
<text x="1452.2" y="77.72" fill="#b2b5be" font-size="14" font-family='"Liberation Serif", serif'>130,000.00</text>
<text x="1452.2" y="143.42" fill="#b2b5be" font-size="14" font-family='"Liberation Serif", serif'>110,000.00</text>
<text x="1452.2" y="307.67" fill="#b2b5be" font-size="14" font-family='"Liberation Serif", serif'>60,000.00</text>
<text x="1452.2" y="340.52" fill="#b2b5be" font-size="14" font-family='"Liberation Serif", serif'>50,000.00</text>
<text x="1452.2" y="373.37" fill="#b2b5be" font-size="14" font-family='"Liberation Serif", serif'>40,000.00</text>
<text x="1452.2" y="406.22" fill="#b2b5be" font-size="14" font-family='"Liberation Serif", serif'>30,000.00</text>
<text x="1452.2" y="439.07" fill="#b2b5be" font-size="14" font-family='"Liberation Serif", serif'>20,000.00</text>
<text x="1452.2" y="471.92" fill="#b2b5be" font-size="14" font-family='"Liberation Serif", serif'>10,000.00</text>
<text x="1452.2" y="504.77" fill="#b2b5be" font-size="14" font-family='"Liberation Serif", serif'>0.00</text>
<text x="1452.2" y="549.8" fill="#b2b5be" font-size="14" font-family='"Liberation Serif", serif'>80.00</text>
<text x="1452.2" y="584.8" fill="#b2b5be" font-size="14" font-family='"Liberation Serif", serif'>60.00</text>
<path d="M1444,78.1 H1519.6 Q1521.6,78.1 1521.6,80.1 V93.3 Q1521.6,95.3 1519.6,95.3 H1444 Z" fill="#9c27b0"/>
<text x="1453.5" y="90.8" textLength="62.5" lengthAdjust="spacingAndGlyphs" fill="#fff" font-size="13.5" font-family='"Liberation Sans", sans-serif' font-weight="normal" stroke="#fff" stroke-width="0.3">126,199.63</text>
<path d="M1444,98 H1519.6 Q1521.6,98 1521.6,100 V113.6 Q1521.6,115.6 1519.6,115.6 H1444 Z" fill="#2b2b2b"/>
<text x="1453.5" y="110.6" textLength="62.5" lengthAdjust="spacingAndGlyphs" fill="#fff" font-size="13.5" font-family='"Liberation Sans", sans-serif' font-weight="normal" stroke="#fff" stroke-width="0.3">119,887.74</text>
<path d="M1444,136.6 H1519.6 Q1521.6,136.6 1521.6,138.6 V151.3 Q1521.6,153.3 1519.6,153.3 H1444 Z" fill="#2b2b2b"/>
<text x="1453.5" y="149.2" textLength="62.5" lengthAdjust="spacingAndGlyphs" fill="#fff" font-size="13.5" font-family='"Liberation Sans", sans-serif' font-weight="normal" stroke="#fff" stroke-width="0.3">108,353.00</text>
<path d="M1443.8,167 H1512.2 Q1514.2,167 1514.2,169 V181.6 Q1514.2,183.6 1512.2,183.6 H1443.8 Z" fill="#ff0000"/>
<text x="1452.7" y="180.1" textLength="57.1" lengthAdjust="spacingAndGlyphs" fill="#fff" font-size="13.5" font-family='"Liberation Sans", sans-serif' font-weight="normal" stroke="#fff" stroke-width="0.3">98,581.95</text>
<path d="M1443.8,186.1 H1513.2 Q1514.2,186.1 1514.2,187.1 V202.2 Q1514.2,203.2 1513.2,203.2 H1443.8 Z" fill="#f23645"/>
<text x="1452.7" y="198" textLength="57.1" lengthAdjust="spacingAndGlyphs" fill="#fff" font-size="13.5" font-family='"Liberation Sans", sans-serif' font-weight="normal" stroke="#fff" stroke-width="0.3">88,014.55</text>
<path d="M1443.8,203.2 H1513.2 Q1514.2,203.2 1514.2,204.2 V234.4 Q1514.2,235.4 1513.2,235.4 H1443.8 Z" fill="#f23645"/>
<text x="1452.7" y="215.5" textLength="57.1" lengthAdjust="spacingAndGlyphs" fill="#fff" font-size="13.5" font-family='"Liberation Sans", sans-serif' font-weight="normal" stroke="#fff" stroke-width="0.3">88,014.55</text>
<text x="1452.7" y="230.9" textLength="38" lengthAdjust="spacingAndGlyphs" fill="#fff" font-size="13.5" font-family='"Liberation Sans", sans-serif' font-weight="normal" stroke="#fff" stroke-width="0.3">2d 16h</text>
<path d="M1443.8,236.2 H1512.2 Q1514.2,236.2 1514.2,238.2 V251.8 Q1514.2,253.8 1512.2,253.8 H1443.8 Z" fill="#0000ff"/>
<text x="1452.7" y="249.8" textLength="57.1" lengthAdjust="spacingAndGlyphs" fill="#fff" font-size="13.5" font-family='"Liberation Sans", sans-serif' font-weight="normal" stroke="#fff" stroke-width="0.3">85,769.34</text>
<path d="M1443.8,257 H1512.2 Q1514.2,257 1514.2,259 V271.8 Q1514.2,273.8 1512.2,273.8 H1443.8 Z" fill="#f23645"/>
<text x="1452.7" y="270" textLength="57.1" lengthAdjust="spacingAndGlyphs" fill="#fff" font-size="13.5" font-family='"Liberation Sans", sans-serif' font-weight="normal" stroke="#fff" stroke-width="0.3">71,769.54</text>
<path d="M1443.9,485.1 H1490.7 Q1492.7,485.1 1492.7,487.1 V500.7 Q1492.7,502.7 1490.7,502.7 H1443.9 Z" fill="#ef5350"/>
<text x="1452.7" y="498.8" textLength="35" lengthAdjust="spacingAndGlyphs" fill="#fff" font-size="13.5" font-family='"Liberation Sans", sans-serif' font-weight="normal" stroke="#fff" stroke-width="0.3">90.8K</text>
<path d="M1443.9,591.9 H1487.1 Q1489.1,591.9 1489.1,593.9 V607.5 Q1489.1,609.5 1487.1,609.5 H1443.9 Z" fill="#ffeb3b"/>
<text x="1452.4" y="605.4" textLength="31.2" lengthAdjust="spacingAndGlyphs" fill="#131722" font-size="13.5" font-family='"Liberation Sans", sans-serif' font-weight="normal">47.51</text>
<path d="M1443.9,610.1 H1487.1 Q1489.1,610.1 1489.1,612.1 V625 Q1489.1,627 1487.1,627 H1443.9 Z" fill="#7e57c2"/>
<text x="1452.4" y="622.9" textLength="31.2" lengthAdjust="spacingAndGlyphs" fill="#fff" font-size="13.5" font-family='"Liberation Sans", sans-serif' font-weight="normal" stroke="#fff" stroke-width="0.3">37.51</text>
<rect x="1447.5" y="32.5" width="74" height="27.5" rx="5" fill="#fff" stroke="#e6e7eb" stroke-width="1"/>
<text x="1456.7" y="50.9" textLength="28.8" lengthAdjust="spacingAndGlyphs" fill="#131722" font-size="13.5" font-family='"Liberation Sans", sans-serif' font-weight="normal">USDT</text>
<text x="57.5" y="661" fill="#a3a6af" font-size="13" text-anchor="middle" font-weight="normal" font-family='"Liberation Sans", sans-serif'>Jul</text>
<text x="223" y="661" fill="#a3a6af" font-size="13" text-anchor="middle" font-weight="bold" font-family='"Liberation Sans", sans-serif'>2024</text>
<text x="388" y="661" fill="#a3a6af" font-size="13" text-anchor="middle" font-weight="normal" font-family='"Liberation Sans", sans-serif'>Jul</text>
<text x="559" y="661" fill="#a3a6af" font-size="13" text-anchor="middle" font-weight="bold" font-family='"Liberation Sans", sans-serif'>2025</text>
<text x="724" y="661" fill="#a3a6af" font-size="13" text-anchor="middle" font-weight="normal" font-family='"Liberation Sans", sans-serif'>Jul</text>
<text x="889.5" y="661" fill="#a3a6af" font-size="13" text-anchor="middle" font-weight="bold" font-family='"Liberation Sans", sans-serif'>2026</text>
<text x="1054.5" y="661" fill="#a3a6af" font-size="13" text-anchor="middle" font-weight="normal" font-family='"Liberation Sans", sans-serif'>Jul</text>
<text x="1220" y="661" fill="#a3a6af" font-size="13" text-anchor="middle" font-weight="bold" font-family='"Liberation Sans", sans-serif'>2027</text>
<text x="1385" y="661" fill="#a3a6af" font-size="13" text-anchor="middle" font-weight="normal" font-family='"Liberation Sans", sans-serif'>Jul</text>
<g transform="translate(13,694.8)" fill="#131722"><path d="M0 0H12.7V15.7H6.5V6H0Z"/><circle cx="18.1" cy="3.05" r="3.05"/><path d="M24.2 0H31.6L25.8 15.7H18.5Z"/></g>
<text x="52" y="710.6" textLength="128.6" lengthAdjust="spacingAndGlyphs" fill="#131722" font-size="22.3" font-family='"Liberation Sans", sans-serif' font-weight="bold">TradingView</text>
</svg>
</body></html>
